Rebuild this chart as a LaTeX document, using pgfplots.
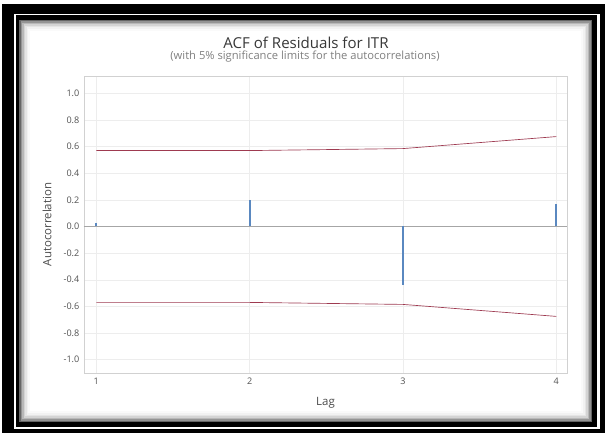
\documentclass[border=0pt]{standalone}
\usepackage{fontspec}
\setmainfont{Open Sans}
\usepackage{pgfplots}
\pgfplotsset{compat=1.18}
\definecolor{barblue}{HTML}{5A88C0}
\definecolor{limred}{HTML}{9E3A50}
\begin{document}
\begin{tikzpicture}[x=0.75pt,y=0.75pt]
\fill[white] (0,0) rectangle (608,436);
\fill[black] (2,3) rectangle (605,432);
\fill[white] (14,7) rectangle (600,422);
\fill[black] (15.5,9) rectangle (597,420.5);
\fill[white] (19.5,14) rectangle (592,416);
\foreach \i/\c in {0/60,1.5/42,3/28,4.5/17,6/10,7.5/5,9/2}{
  \draw[black!\c, line width=1.2pt] ({19.5+\i+0.75},{14+\i+0.75}) rectangle ({592-\i-0.75},{416-\i-0.75});
}
\node[font=\fontsize{11.3}{13}\selectfont, text=black!78] at (306,393) {ACF of Residuals for ITR};
\node[font=\fontsize{8.4}{9}\selectfont, text=black!50] at (305,379) {(with 5\% significance limits for the autocorrelations)};
\begin{axis}[
  at={(63pt,47.25pt)}, anchor=south west, scale only axis,
  width=362.25pt, height=222.75pt,
  xmin=0.92, xmax=4.07, ymin=-1.1, ymax=1.13,
  xtick={1,2,3,4}, xticklabels={1,2,3,4},
  ytick={-1,-0.8,-0.6,-0.4,-0.2,0,0.2,0.4,0.6,0.8,1},
  yticklabels={-1.0,-0.8,-0.6,-0.4,-0.2,0.0,0.2,0.4,0.6,0.8,1.0},
  grid=major, grid style={black!7, line width=0.4pt},
  axis line style={black!18},
  major tick length=0pt,
  tick label style={font=\fontsize{6.8}{8}\selectfont, text=black!68},
  xlabel={Lag}, ylabel={Autocorrelation},
  label style={font=\fontsize{8.6}{10}\selectfont, text=black!70},
  xlabel style={at={(axis description cs:0.5,-0.101)}, anchor=center},
  ylabel style={at={(axis description cs:-0.0766,0.5)}, anchor=center},
  clip=false,
]
\addplot[black!35, line width=0.7pt] coordinates {(0.92,0) (4.07,0)};
\addplot[limred, line width=0.5pt] coordinates {(1,0.57) (2,0.57) (3,0.585) (4,0.675)};
\addplot[limred, line width=0.5pt] coordinates {(1,-0.57) (2,-0.57) (3,-0.585) (4,-0.675)};
\addplot[ycomb, barblue, line width=1.6pt, mark=none] coordinates {(1,0.03) (2,0.2) (3,-0.44) (4,0.17)};
\end{axis}
\end{tikzpicture}
\end{document}
